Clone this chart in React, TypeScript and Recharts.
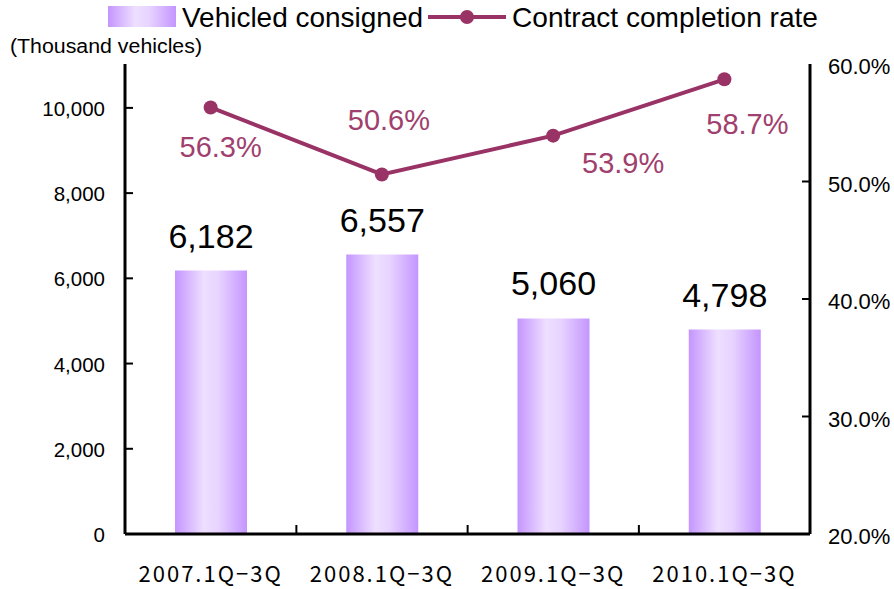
import React from 'react';
import { ComposedChart, Bar, Line, XAxis, YAxis, LabelList } from 'recharts';

const categories = ['2007.1Q−3Q', '2008.1Q−3Q', '2009.1Q−3Q', '2010.1Q−3Q'];
const vehiclesConsigned = [6182, 6557, 5060, 4798];
const completionRate = [56.3, 50.6, 53.9, 58.7];
const leftTicks = [0, 2000, 4000, 6000, 8000, 10000];
const rightTicks = [20, 30, 40, 50, 60];
const seriesNames = ['Vehicled consigned', 'Contract completion rate'];
const leftAxisUnit = '(Thousand vehicles)';
const lineLabelDx = [10, 7, 70, 23];
const lineLabelDy = [50, -44, 37, 55];

const data = categories.map((c, i) => ({
  category: c,
  vehicles: vehiclesConsigned[i],
  rate: completionRate[i],
}));

const NUM_FONT = '"Liberation Sans", Arial, sans-serif';
const JP_FONT = '"Noto Sans CJK JP", "Liberation Sans", sans-serif';
const LINE_COLOR = '#993366';
const LABEL_COLOR = '#A0406E';

const GradientStops = () => (
  <>
    <stop offset="0%" stopColor="#C495FF" />
    <stop offset="40%" stopColor="#EEDFFF" />
    <stop offset="60%" stopColor="#E8D4FF" />
    <stop offset="100%" stopColor="#C495FF" />
  </>
);

const LeftTick = (props: any) => {
  const { x, y, payload } = props;
  return (
    <g>
      {payload.value !== 0 && (
        <line x1={x} x2={x + 8} y1={y} y2={y} stroke="#000" strokeWidth={2} />
      )}
      <text x={x - 20} y={y + 8} textAnchor="end" fontSize={20.5} fontFamily={NUM_FONT} fill="#000">
        {payload.value.toLocaleString('en-US')}
      </text>
    </g>
  );
};

const RightTick = (props: any) => {
  const { x, y, payload } = props;
  const v = payload.value;
  return (
    <g>
      {v !== 20 && v !== 60 && (
        <line x1={x} x2={x - 8} y1={y} y2={y} stroke="#000" strokeWidth={2} />
      )}
      <text x={x + 18} y={y + 10} textAnchor="start" fontSize={22} fontFamily={NUM_FONT} fill="#000">
        {v.toFixed(1) + '%'}
      </text>
    </g>
  );
};

const BottomTick = (props: any) => {
  const { x, y, payload, index } = props;
  const band = 686 / categories.length;
  return (
    <g>
      {index < categories.length - 1 && (
        <line x1={x + band / 2} x2={x + band / 2} y1={y} y2={y - 9} stroke="#000" strokeWidth={2} />
      )}
      <text x={x} y={y + 48} textAnchor="middle" fontSize={22} letterSpacing={2} fontFamily={JP_FONT} fill="#000">
        {payload.value}
      </text>
    </g>
  );
};

const BarLabel = (props: any) => {
  const { x, y, width, value } = props;
  return (
    <text x={x + width / 2} y={y - 23} textAnchor="middle" fontSize={34} fontFamily={NUM_FONT} fill="#000">
      {Number(value).toLocaleString('en-US')}
    </text>
  );
};

const LineLabel = (props: any) => {
  const { x, y, value, index } = props;
  return (
    <text
      x={x + lineLabelDx[index]}
      y={y + lineLabelDy[index]}
      textAnchor="middle"
      fontSize={29}
      fontFamily={NUM_FONT}
      fill={LABEL_COLOR}
    >
      {Number(value).toFixed(1) + '%'}
    </text>
  );
};

export default function App() {
  return (
    <div style={{ position: 'fixed', left: 0, top: 0, width: 894, height: 589, background: '#fff' }}>
      <ComposedChart
        width={894}
        height={589}
        data={data}
        margin={{ top: 64, right: 0, bottom: 0, left: 0 }}
        barCategoryGap={0}
      >
        <defs>
          <linearGradient id="barGrad" x1="0" y1="0" x2="1" y2="0">
            <GradientStops />
          </linearGradient>
        </defs>
        <XAxis
          dataKey="category"
          height={55}
          axisLine={{ stroke: '#000', strokeWidth: 3 }}
          tickLine={false}
          tickSize={0}
          tickMargin={0}
          tick={<BottomTick />}
          interval={0}
        />
        <XAxis
          xAxisId="top"
          dataKey="category"
          orientation="top"
          height={0}
          axisLine={{ stroke: '#000', strokeWidth: 2 }}
          tick={false}
          tickLine={false}
        />
        <YAxis
          yAxisId="left"
          width={125}
          domain={[0, 11030]}
          ticks={leftTicks}
          allowDataOverflow
          axisLine={{ stroke: '#000', strokeWidth: 3 }}
          tickLine={false}
          tickSize={0}
          tickMargin={0}
          tick={<LeftTick />}
          interval={0}
        />
        <YAxis
          yAxisId="right"
          orientation="right"
          width={84}
          domain={[20, 60]}
          ticks={rightTicks}
          allowDataOverflow
          axisLine={{ stroke: '#000', strokeWidth: 3 }}
          tickLine={false}
          tickSize={0}
          tickMargin={0}
          tick={<RightTick />}
          interval={0}
        />
        <Bar yAxisId="left" dataKey="vehicles" barSize={72} fill="url(#barGrad)" isAnimationActive={false}>
          <LabelList dataKey="vehicles" content={<BarLabel />} />
        </Bar>
        <Line
          yAxisId="right"
          dataKey="rate"
          stroke={LINE_COLOR}
          strokeWidth={4}
          dot={{ r: 7, fill: LINE_COLOR, stroke: LINE_COLOR, strokeWidth: 0 }}
          isAnimationActive={false}
        >
          <LabelList dataKey="rate" content={<LineLabel />} />
        </Line>
      </ComposedChart>
      <svg
        width={894}
        height={62}
        style={{ position: 'absolute', left: 0, top: 0, pointerEvents: 'none' }}
      >
        <defs>
          <linearGradient id="legGrad" x1="0" y1="0" x2="1" y2="0">
            <GradientStops />
          </linearGradient>
        </defs>
        <rect x={108} y={6} width={68} height={21} fill="url(#legGrad)" />
        <text
          x={182}
          y={27}
          fontSize={28}
          fontFamily={NUM_FONT}
          fill="#000"
          textLength={241}
          lengthAdjust="spacingAndGlyphs"
        >
          {seriesNames[0]}
        </text>
        <line x1={428} x2={506} y1={17} y2={17} stroke={LINE_COLOR} strokeWidth={4} />
        <circle cx={467} cy={17} r={7} fill={LINE_COLOR} />
        <text
          x={512}
          y={27}
          fontSize={28}
          fontFamily={NUM_FONT}
          fill="#000"
          textLength={306}
          lengthAdjust="spacingAndGlyphs"
        >
          {seriesNames[1]}
        </text>
        <text
          x={10}
          y={53}
          fontSize={19.5}
          fontFamily={NUM_FONT}
          fill="#000"
          textLength={192}
          lengthAdjust="spacingAndGlyphs"
        >
          {leftAxisUnit}
        </text>
      </svg>
    </div>
  );
}
